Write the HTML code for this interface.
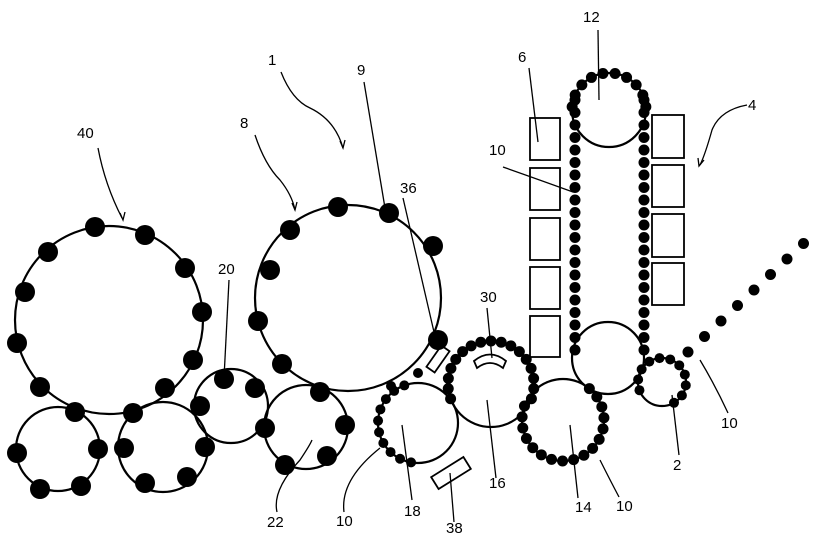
<!DOCTYPE html>
<html><head><meta charset="utf-8"><style>
html,body{margin:0;padding:0;background:#fff;}
svg{display:block;font-family:"Liberation Sans",sans-serif;font-size:15px;}
</style></head><body>
<svg id="s" width="831" height="537" viewBox="0 0 831 537" xmlns="http://www.w3.org/2000/svg">
<g fill="none" stroke="#000" stroke-width="2.2">
<circle cx="109" cy="320" r="94"/>
<circle cx="58" cy="449" r="42"/>
<circle cx="163" cy="447" r="45"/>
<circle cx="231" cy="406" r="37"/>
<circle cx="306" cy="427" r="42"/>
<circle cx="348" cy="298" r="93"/>
<circle cx="418" cy="423" r="40"/>
<circle cx="491" cy="384" r="43"/>
<circle cx="563" cy="420" r="41"/>
<circle cx="609" cy="110" r="37"/>
<circle cx="608" cy="358" r="36"/>
<circle cx="662" cy="382" r="24"/>
</g>
<g fill="none" stroke="#000" stroke-width="1.8">
<rect x="530" y="118" width="30" height="42"/><rect x="530" y="168" width="30" height="42"/>
<rect x="530" y="218" width="30" height="42"/><rect x="530" y="267" width="30" height="42"/>
<rect x="530" y="316" width="30" height="41"/>
<rect x="652" y="115" width="32" height="43"/><rect x="652" y="165" width="32" height="42"/>
<rect x="652" y="214" width="32" height="43"/><rect x="652" y="263" width="32" height="42"/>
<rect x="-13" y="-5" width="26" height="10" transform="translate(438,359) rotate(-55)"/>
<rect x="-19" y="-7" width="38" height="14" transform="translate(451,473) rotate(-32)"/>
<path d="M474,361 Q490,348 506,361 L503,368 Q490,358 477,368 Z"/>
</g>
<g id="d" fill="#000"></g>
<g fill="none" stroke="#000" stroke-width="1.3">
<path d="M98,148 Q105,185 122,218"/><path d="M120,213 l3,7 l2,-8"/>
<path d="M255,135 Q265,165 280,180 Q292,195 295,210"/><path d="M292,203 l3,7 l2,-8"/>
<path d="M281,72 Q292,100 310,108 Q335,120 343,148"/><path d="M340,141 l3,7 l2,-8"/>
<path d="M364,82 L385,208"/>
<path d="M403,198 L437,345"/>
<path d="M229,280 L224,378"/>
<path d="M487,308 L492,358"/>
<path d="M529,68 L538,142"/>
<path d="M598,30 L599,100"/>
<path d="M503,167 Q540,180 573,192"/>
<path d="M747,105 Q720,110 712,130 Q705,155 700,165"/><path d="M698,158 l1,8 l5,-6"/>
<path d="M728,413 Q715,385 700,360"/>
<path d="M679,455 L672,395"/>
<path d="M619,497 Q610,480 600,460"/>
<path d="M578,498 L570,425"/>
<path d="M496,478 L487,400"/>
<path d="M412,500 L402,425"/>
<path d="M454,522 L450,473"/>
<path d="M344,512 Q340,480 380,448"/>
<path d="M277,512 Q272,490 300,460 Q310,445 312,440"/>
</g>
<g fill="#000">
<text x="77" y="138">40</text><text x="240" y="128">8</text><text x="268" y="65">1</text>
<text x="357" y="75">9</text><text x="400" y="193">36</text><text x="218" y="274">20</text>
<text x="480" y="302">30</text><text x="518" y="62">6</text><text x="583" y="22">12</text>
<text x="489" y="155">10</text><text x="748" y="110">4</text><text x="721" y="428">10</text>
<text x="673" y="470">2</text><text x="616" y="511">10</text><text x="575" y="512">14</text>
<text x="489" y="488">16</text><text x="404" y="516">18</text><text x="446" y="533">38</text>
<text x="336" y="526">10</text><text x="267" y="527">22</text>
</g>
</svg>
<script>
var g=document.getElementById('d'),NS="http://www.w3.org/2000/svg";
function c(x,y,r){var e=document.createElementNS(NS,'circle');e.setAttribute('cx',x);e.setAttribute('cy',y);e.setAttribute('r',r);g.appendChild(e);}
[[95,227],[145,235],[185,268],[202,312],[193,360],[165,388],[133,413],[75,412],[40,387],[17,343],[25,292],[48,252],
[98,449],[81,486],[40,489],[17,453],[205,447],[187,477],[145,483],[124,448],
[224,379],[255,388],[200,406],[265,428],[320,392],[345,425],[327,456],[285,465],
[290,230],[338,207],[389,213],[433,246],[438,340],[270,270],[258,321],[282,364]].forEach(function(p){c(p[0],p[1],10);});
function ring(cx,cy,r,a0,a1,n,s){for(var i=0;i<n;i++){var a=(a0+(a1-a0)*i/(n-1))*Math.PI/180;c(cx+r*Math.cos(a),cy+r*Math.sin(a),s);}}
ring(418,423,40,100,250,10,5);
ring(491,384,43,-200,20,17,5.5);
ring(563,420,41,-50,200,17,5.5);
ring(609,110,37,-175,-5,10,5.5);
ring(662,382,24,-200,60,11,5);
for(var y=100;y<=362;y+=12.5){c(575,y,5.5);c(644,y,5.5);}
c(391,386,5);c(418,373,5);
for(var i=0;i<8;i++)c(688+i*16.5,352-i*15.5,5.5);
</script>
</body></html>
